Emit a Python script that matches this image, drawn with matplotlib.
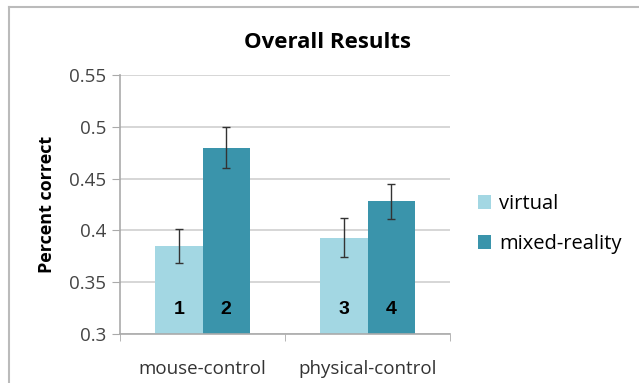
import matplotlib
matplotlib.use('Agg')
import matplotlib.pyplot as plt
from matplotlib.lines import Line2D
import numpy as np

matplotlib.rcParams['font.family'] = ['Open Sans', 'DejaVu Sans']

categories = ['mouse-control', 'physical-control']
series = ['virtual', 'mixed-reality']
virtual = [0.385, 0.393]
virtual_err = [0.016, 0.019]
mixed = [0.480, 0.428]
mixed_err = [0.020, 0.017]
bar_labels = [['1', '3'], ['2', '4']]

colors = ['#a3d7e3', '#3a94ab']
grid_color = '#d0d0d0'

fig = plt.figure(figsize=(6.39, 3.83), dpi=100)
ax = fig.add_axes([120 / 639, 1 - 334 / 383, 330 / 639, 259 / 383])

x = np.arange(len(categories))
width = 0.285
for i, (vals, errs) in enumerate([(virtual, virtual_err), (mixed, mixed_err)]):
    pos = x + (i - 0.5) * width
    ax.bar(pos, vals, width, color=colors[i], label=series[i], zorder=2)
    ax.errorbar(pos, vals, yerr=errs, fmt='none', ecolor='#333333',
                elinewidth=1, capsize=3, capthick=1, zorder=3)
    for p, lab in zip(pos, bar_labels[i]):
        ax.text(p, 0.3235, lab, ha='center', va='center', fontsize=14,
                fontweight='bold', color='black', family='Liberation Sans', zorder=4)

ax.set_ylim(0.3, 0.55)
ax.set_xlim(-0.5, 1.5)
ax.set_yticks([0.3, 0.35, 0.4, 0.45, 0.5, 0.55])
ax.set_yticklabels(['0.3', '0.35', '0.4', '0.45', '0.5', '0.55'])
ax.yaxis.grid(True, color=grid_color, linewidth=1.2, zorder=0)
ax.set_axisbelow(True)

ax.set_xticks(x)
ax.set_xticklabels(categories)
ax.set_xticks([-0.5, 0.5, 1.5], minor=True)
ax.tick_params(axis='x', which='major', length=0, pad=19, labelsize=13.5, labelcolor='#333333')
ax.tick_params(axis='x', which='minor', length=5, color='#aaaaaa', direction='out')
ax.tick_params(axis='y', length=6, color='#aaaaaa', labelsize=13.5, labelcolor='#444444', pad=4)

for side in ['top', 'right']:
    ax.spines[side].set_visible(False)
for side in ['left', 'bottom']:
    ax.spines[side].set_color('#aaaaaa')
    ax.spines[side].set_linewidth(1.2)

ax.set_ylabel('Percent correct', fontsize=13, fontweight='bold', labelpad=9)
fig.text(328 / 639, 1 - 42 / 383, 'Overall Results', ha='center', va='center',
         fontsize=16, fontweight='bold')

fig.legend(*ax.get_legend_handles_labels(), loc='center left',
           bbox_to_anchor=(478 / 639, 1 - 224 / 383), frameon=False,
           fontsize=14.5, handlelength=0.65, handleheight=0.65, handletextpad=0.4,
           labelspacing=1.0, borderpad=0, borderaxespad=0)

# outer chart frame (left and top edges)
fig.add_artist(Line2D([9 / 639, 9 / 639], [0, 1 - 7 / 383], color='#bbbbbb', linewidth=1.5))
fig.add_artist(Line2D([9 / 639, 1], [1 - 7 / 383, 1 - 7 / 383], color='#bbbbbb', linewidth=1.5))

plt.savefig('out.png', dpi=100)
